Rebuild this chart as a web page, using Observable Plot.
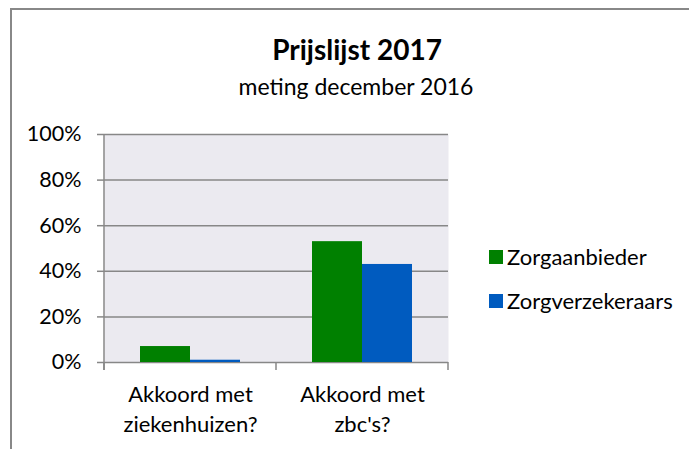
<!DOCTYPE html>
<html>
<head>
<meta charset="utf-8">
<script src="https://cdn.jsdelivr.net/npm/d3@7"></script>
<script src="https://cdn.jsdelivr.net/npm/@observablehq/plot@0.6"></script>
<style>
html,body{margin:0;padding:0;background:#fff;overflow:hidden;width:689px;height:449px;}
#wrap{position:relative;width:689px;height:449px;overflow:hidden;font-family:Lato,"Open Sans",sans-serif;color:#000;}
#frame{position:absolute;left:10px;top:8px;width:800px;height:600px;border:2px solid #888;box-sizing:border-box;}
#title{position:absolute;left:0;width:714px;top:35px;text-align:center;font-size:28px;font-weight:bold;line-height:1;}
#subtitle{position:absolute;left:0;width:712px;top:75px;text-align:center;font-size:23px;line-height:1;}
#chart{position:absolute;left:0;top:110px;}
.leg{position:absolute;left:489px;font-size:22px;line-height:1;display:flex;align-items:center;}
.leg .sw{width:14px;height:14px;margin-right:4px;}
</style>
</head>
<body>
<div id="wrap">
  <div id="frame"></div>
  <div id="title"></div>
  <div id="subtitle"></div>
  <div id="chart"></div>
  <div id="legend"></div>
</div>
<script>
const titleText = "Prijslijst 2017";
const subtitleText = "meting december 2016";
const categories = ["Akkoord met\nziekenhuizen?", "Akkoord met\nzbc's?"];
const series = ["Zorgaanbieder", "Zorgverzekeraars"];
const zorgaanbieder = [7, 53];
const zorgverzekeraars = [1, 43];
const yTicks = [0, 20, 40, 60, 80, 100];
const colors = ["#008000", "#005bbf"];

document.getElementById("title").textContent = titleText;
document.getElementById("subtitle").textContent = subtitleText;

const rowsA = categories.map((c, i) => ({category: c, series: series[0], value: zorgaanbieder[i]}));
const rowsB = categories.map((c, i) => ({category: c, series: series[1], value: zorgverzekeraars[i]}));

const gray = "#878787";

function axisLines(index, scales) {
  const x = scales.x, y = scales.y;
  const bw = x.bandwidth();
  const y0 = y(0);
  const g = d3.create("svg:g").attr("stroke", gray).attr("stroke-width", 1.5).attr("fill", "none");
  const x0 = x(categories[0]);
  g.append("line").attr("x1", x0).attr("x2", x0).attr("y1", y(100)).attr("y2", y0 + 8);
  const bounds = categories.map(c => x(c)).concat([x(categories[categories.length - 1]) + bw]);
  for (const b of bounds) {
    g.append("line").attr("x1", b).attr("x2", b).attr("y1", y0).attr("y2", y0 + 8);
  }
  return g.node();
}

const chart = Plot.plot({
  width: 689,
  height: 339,
  marginTop: 24,
  marginBottom: 87,
  marginLeft: 104,
  marginRight: 241,
  style: {fontFamily: "Lato, 'Open Sans', sans-serif", color: "#000", background: "transparent", overflow: "visible"},
  x: {domain: categories, padding: 0, label: null},
  y: {domain: [0, 100], label: null},
  marks: [
    Plot.frame({fill: "#ebeaf0", stroke: null}),
    Plot.gridY(yTicks, {stroke: gray, strokeOpacity: 1, strokeWidth: 1.5}),
    Plot.barY(rowsA, {x: "category", y: "value", fill: colors[0], insetLeft: 36, insetRight: 86}),
    Plot.barY(rowsB, {x: "category", y: "value", fill: colors[1], insetLeft: 86, insetRight: 36}),
    Plot.axisY(yTicks, {label: null, tickSize: 7, tickPadding: 16, tickFormat: d => d + "%", fontSize: 21.5, stroke: gray, strokeWidth: 1.5, strokeOpacity: 1, fill: "#000"}),
    Plot.axisX({label: null, tickSize: 0, tickPadding: 18, fontSize: 22, lineHeight: 1.37, fill: "#000"}),
    axisLines
  ]
});
document.getElementById("chart").appendChild(chart);

const legend = document.getElementById("legend");
const legendTops = [246, 290];
series.forEach((s, i) => {
  const item = document.createElement("div");
  item.className = "leg";
  item.style.top = legendTops[i] + "px";
  const sw = document.createElement("span");
  sw.className = "sw";
  sw.style.background = colors[i];
  const t = document.createElement("span");
  t.textContent = s;
  item.appendChild(sw);
  item.appendChild(t);
  legend.appendChild(item);
});
</script>
</body>
</html>
